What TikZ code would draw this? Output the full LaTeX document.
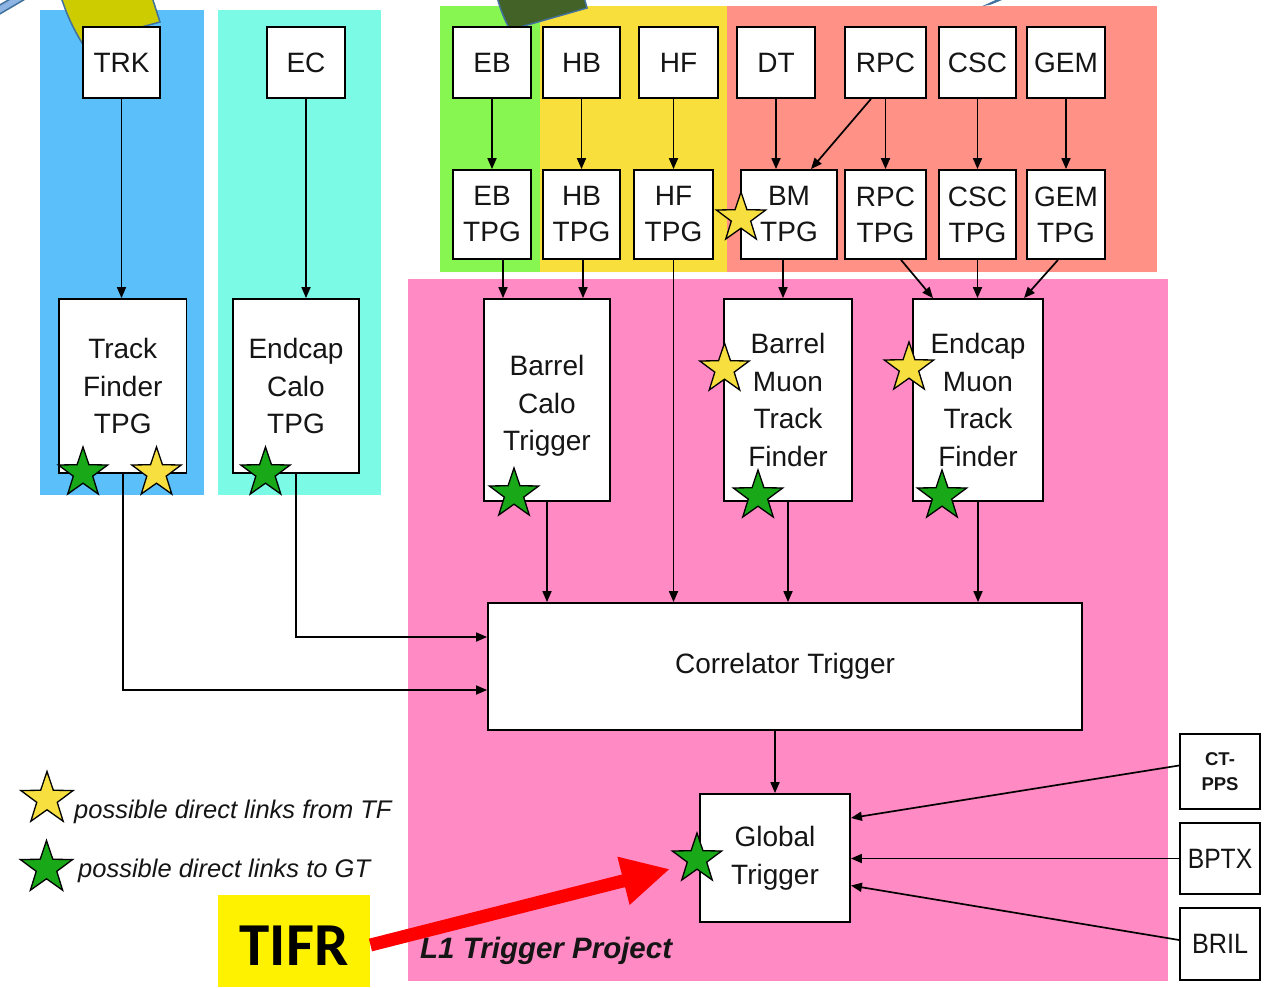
\documentclass[tikz,border=0pt]{standalone}
\usepackage{fontspec}
\setmainfont{Liberation Sans}
\newfontfamily\tifrfont{Carlito}
\usetikzlibrary{arrows.meta,shapes.geometric,calc}

% panel and marker colours
\definecolor{trkblue}{HTML}{5BBFF9}
\definecolor{ecalcyan}{HTML}{7BFAE6}
\definecolor{ebgreen}{HTML}{88F651}
\definecolor{hcalyellow}{HTML}{F8DF3C}
\definecolor{muonsalmon}{HTML}{FF9186}
\definecolor{lonepink}{HTML}{FF8AC4}
\definecolor{staryellow}{HTML}{F7DF3F}
\definecolor{stargreen}{HTML}{18A818}
\definecolor{tabborder}{HTML}{41719C}
\definecolor{tabolive}{HTML}{CCCC00}
\definecolor{tabgreen}{HTML}{426228}
\definecolor{tablight}{HTML}{8DB4E2}
\definecolor{inktext}{HTML}{151515}

\begin{document}
\begin{tikzpicture}[x=1pt,y=-1pt,
  blk/.style={draw=black, fill=white, line width=1.8pt, inner sep=0pt,
    align=center, text=inktext, font=\fontsize{28}{37.5}\selectfont},
  tpg/.style={blk, minimum height=89, font=\fontsize{28}{36}\selectfont},
  det/.style={blk, minimum height=71},
  ext/.style={blk, minimum width=80},
  arr/.style={line width=1.7pt, -{Triangle[length=11pt,width=9pt]}},
  starshape/.style={star, star points=5, star point ratio=2.55,
    minimum size=52pt, inner sep=0pt, draw=black, line width=1.3pt},
  tfstar/.style={starshape, fill=staryellow},
  gtstar/.style={starshape, fill=stargreen},
  legendtext/.style={anchor=base west, inner sep=0pt, text=inktext,
    font=\fontsize{25.5}{30}\itshape}
]
\useasboundingbox (0,0) rectangle (1273,987);
\fill[white] (0,0) rectangle (1273,987);

% ---- coloured sub-system panels ----
\fill[trkblue]    (40,10)   rectangle (204,495);
\fill[ecalcyan]   (218,10)  rectangle (381,495);
\fill[ebgreen]    (440,6)   rectangle (540,272);
\fill[hcalyellow] (540,6)   rectangle (727,272);
\fill[muonsalmon] (727,6)   rectangle (1157,272);
\fill[lonepink]   (408,279) rectangle (1168,981);

% ---- tabs peeking in from the top edge ----
\filldraw[fill=tablight, draw=tabborder, line width=1.5pt]
  (-2,6) -- (12,-2) -- (27,-2) -- (-2,15) -- cycle;
\filldraw[fill=tabolive, draw=tabborder, line width=1.5pt]
  (61,-3) to[bend right=6] (82,43) -- (160,22) -- (152,-3) -- cycle;
\filldraw[fill=tabgreen, draw=tabborder, line width=1.5pt]
  (497,-3) to[bend right=6] (510,30) -- (587,8) -- (584,-3) -- cycle;
\filldraw[fill=tabborder, draw=tabborder, line width=1pt]
  (986,5) -- (999,-1) -- (1003,-1) -- (991,4) -- cycle;

% ---- detector boxes ----
\node[det, minimum width=77] (trk) at (121.5,62.5) {TRK};
\node[det, minimum width=78] (ec)  at (306,62.5)   {EC};
\node[det, minimum width=78] (eb)  at (492,62.5)   {EB};
\node[det, minimum width=77] (hb)  at (581.5,62.5) {HB};
\node[det, minimum width=79] (hf)  at (678.5,62.5) {HF};
\node[det, minimum width=78] (dt)  at (776,62.5)   {DT};
\node[det, minimum width=81] (rpc) at (885.5,62.5) {RPC};
\node[det, minimum width=77] (csc) at (977.5,62.5) {CSC};
\node[det, minimum width=78] (gem) at (1066,62.5)  {GEM};

% ---- trigger primitive generators ----
\node[tpg, minimum width=78] (ebtpg)  at (492,214.5)   {EB\\TPG};
\node[tpg, minimum width=77] (hbtpg)  at (581.5,214.5) {HB\\TPG};
\node[tpg, minimum width=79] (hftpg)  at (673.5,214.5) {HF\\TPG};
\node[tpg, minimum width=96] (bmtpg)  at (789,214.5)   {BM\\TPG};
\node[tpg, minimum width=81] (rpctpg) at (885.5,214.5) {RPC\\TPG};
\node[tpg, minimum width=77] (csctpg) at (977.5,214.5) {CSC\\TPG};
\node[tpg, minimum width=78] (gemtpg) at (1066,214.5)  {GEM\\TPG};

% ---- processing layer ----
\node[blk, minimum width=127.5, minimum height=174] (tftpg) at (122.75,386) {Track\\Finder\\TPG};
\node[blk, minimum width=126,   minimum height=174] (ectpg) at (296,386)    {Endcap\\Calo\\TPG};
\node[blk, minimum width=126,   minimum height=202] (bct)   at (547,400)    {};
\node[inner sep=0pt, align=center, text=inktext, font=\fontsize{28}{37.5}\selectfont]
  (bcttext) at (547,406) {Barrel\\Calo\\Trigger};
\node[blk, minimum width=127.5, minimum height=202] (bmtf)  at (788,400)    {Barrel\\Muon\\Track\\Finder};
\node[blk, minimum width=130,   minimum height=202] (emtf)  at (978,400)    {Endcap\\Muon\\Track\\Finder};

\node[blk, minimum width=594, minimum height=127] (ct) at (785,666.5) {Correlator Trigger};
\node[blk, minimum width=150, minimum height=128, font=\fontsize{28}{38}\selectfont] (gt) at (775,858) {Global\\Trigger};

% ---- external inputs ----
\node[ext, minimum height=75, font=\fontsize{18.5}{25}\bfseries] (ctpps) at (1220,771.5) {CT-\\PPS};
\node[ext, minimum height=71] (bptx) at (1220,858.5) {\scalebox{0.88}[1]{BPTX}};
\node[ext, minimum height=72] (bril) at (1220,944)   {\scalebox{0.9}[1]{BRIL}};

% ---- detector to TPG ----
\draw[arr] (trk.south) -- (trk.south |- tftpg.north);
\draw[arr] (ec.south) -- (ec.south |- ectpg.north);
\draw[arr] (eb.south) -- (eb.south |- ebtpg.north);
\draw[arr] (hb.south) -- (hb.south |- hbtpg.north);
\draw[arr] (hftpg.north |- hf.south) -- (hftpg.north);
\draw[arr] (dt.south) -- (dt.south |- bmtpg.north);
\draw[arr] ([xshift=-14.5]rpc.south) -- ([xshift=22]bmtpg.north);
\draw[arr] (rpc.south) -- (rpctpg.north);
\draw[arr] (csc.south) -- (csctpg.north);
\draw[arr] (gem.south) -- (gemtpg.north);

% ---- TPG to trigger processors ----
\draw[arr] ([xshift=11]ebtpg.south) -- ([xshift=11]ebtpg.south |- bct.north);
\draw[arr] ([xshift=1.5]hbtpg.south) -- ([xshift=1.5]hbtpg.south |- bct.north);
\draw[arr] ([xshift=-6]bmtpg.south) -- ([xshift=-6]bmtpg.south |- bmtf.north);
\draw[arr] ([xshift=15.5]rpctpg.south) -- ([xshift=-45]emtf.north);
\draw[arr] (csctpg.south) -- (csctpg.south |- emtf.north);
\draw[arr] ([xshift=-8]gemtpg.south) -- ([xshift=46]emtf.north);

% ---- into the correlator ----
\draw[arr] (hftpg.south) -- (hftpg.south |- ct.north);
\draw[arr] (bct.south) -- (bct.south |- ct.north);
\draw[arr] (bmtf.south) -- (bmtf.south |- ct.north);
\draw[arr] (emtf.south) -- (emtf.south |- ct.north);
\draw[arr] (ectpg.south) |- ([yshift=29.5]ct.west);
\draw[arr] (tftpg.south) |- ([yshift=-23.5]ct.west);

% ---- into the global trigger ----
\draw[arr] (ct.south -| gt.north) -- (gt.north);
\draw[arr] ([yshift=6]ctpps.west) -- ([yshift=40]gt.east);
\draw[arr] (bptx.west) -- (gt.east |- bptx.west);
\draw[arr] ([yshift=4]bril.west) -- ([yshift=-27.5]gt.east);

% ---- link markers ----
\node[gtstar] (sTFg)  at (83,473)    {};
\node[tfstar] (sTFy)  at (156.5,473) {};
\node[gtstar] (sECg)  at (265.5,473) {};
\node[gtstar] (sBCg)  at (514,494)   {};
\node[tfstar] (sBMy)  at (724.5,369) {};
\node[gtstar] (sBMg)  at (758,496)   {};
\node[tfstar] (sEMy)  at (909,368)   {};
\node[gtstar] (sEMg)  at (942,496)   {};
\node[tfstar] (sTPGy) at (741,218)   {};
\node[gtstar] (sGTg)  at (697,859)   {};

% ---- legend ----
\node[tfstar, minimum size=55pt] (legy) at (47,799) {};
\node[gtstar, minimum size=55pt] (legg) at (46.5,868) {};
\node[legendtext] (legytext) at (74,818) {possible direct links from TF};
\node[legendtext] (leggtext) at (78,877) {possible direct links to GT};

\node[anchor=base west, inner sep=0pt, text=inktext,
  font=\fontsize{29.5}{32}\bfseries\itshape] (l1title) at (420,958) {L1 Trigger Project};

% ---- TIFR pointer ----
\node[fill=yellow, inner sep=0pt, minimum width=152.5, minimum height=92,
  text height=48pt, text depth=0pt, font=\tifrfont\fontsize{61}{61}\bfseries]
  (tifr) at (294,941) {TIFR};
\coordinate (tifrtip) at (670,869);
\draw[red, line width=13pt, -{Triangle[length=48pt,width=46pt]}]
  ([yshift=-4]tifr.east) -- (tifrtip);
\end{tikzpicture}
\end{document}
